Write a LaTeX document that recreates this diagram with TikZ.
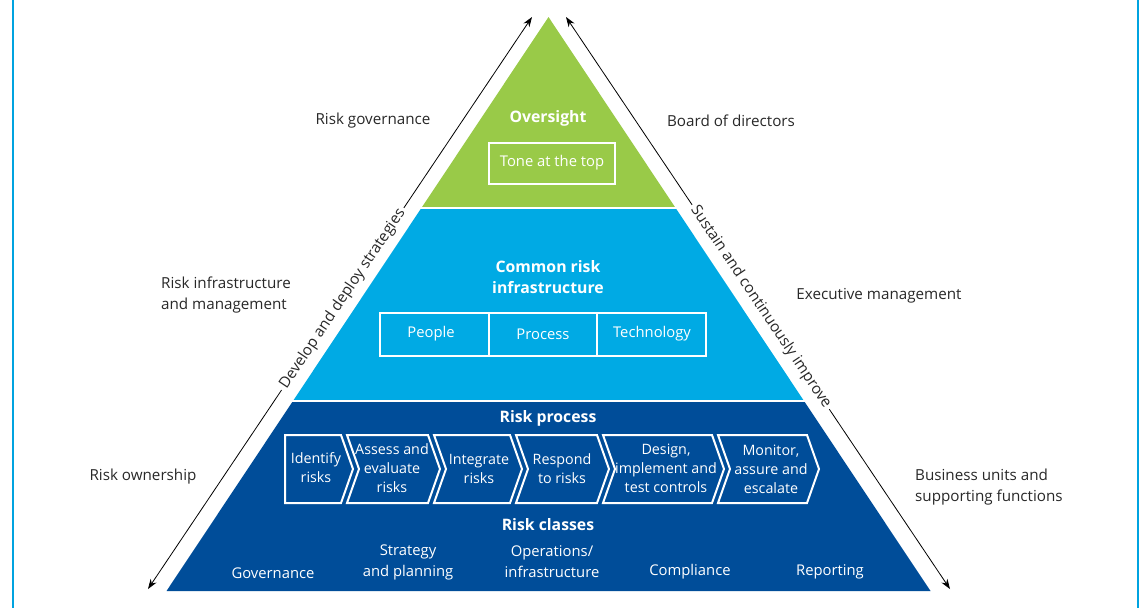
\documentclass[tikz,border=0pt]{standalone}
\usepackage{fontspec}
\setmainfont{Open Sans}
\usetikzlibrary{arrows.meta,calc}
\definecolor{frameblue}{RGB}{0,163,224}
\definecolor{pgreen}{RGB}{153,202,72}
\definecolor{pcyan}{RGB}{0,170,228}
\definecolor{pdark}{RGB}{0,77,153}
\definecolor{txt}{RGB}{40,40,40}
\newcommand\mychev[3]{%
  \draw[wbox] (#1,435) -- (#2,435) -- (#2+12,469) -- (#2,503) -- (#1,503) -- (#1+#3,469) -- cycle;}
\begin{document}
\begin{tikzpicture}[x=1pt,y=-1pt,
  lab/.style={font=\fontsize{15.2}{21}\selectfont, text=txt, inner sep=0pt},
  wlab/.style={font=\fontsize{14.3}{19}\selectfont, text=white, align=center, inner sep=0pt},
  wbold/.style={font=\fontsize{15.8}{21}\selectfont\bfseries, text=white, align=center, inner sep=0pt},
  wbox/.style={draw=white, line width=2pt, line join=miter},
  arr/.style={{Stealth[length=10pt,width=7pt]}-{Stealth[length=10pt,width=7pt]}, line width=0.8pt, draw=black},
  slab/.style={fill=white, font=\fontsize{15.2}{17}\selectfont, text=txt, inner sep=3pt}
]
\useasboundingbox (0,0) rectangle (1144,608);
% frame
\draw[frameblue, line width=2.5pt] (13,0) -- (13,608);
\draw[frameblue, line width=2.5pt] (1138,0) -- (1138,608);
% pyramid
\coordinate (apex) at (548.5,17);
\coordinate (bl) at (166.5,591);
\coordinate (br) at (930.5,591);
\foreach \ya/\yb/\c in {17/206/pgreen, 209/399/pcyan, 402/591/pdark}{
  \begin{scope}
    \clip (0,\ya) rectangle (1144,\yb);
    \fill[\c] (apex) -- (bl) -- (br) -- cycle;
  \end{scope}
}
% arrows
\coordinate (la) at (148,589);
\coordinate (lb) at (532,17);
\coordinate (ra) at (950,589);
\coordinate (rb) at (566,17);
\draw[arr] (la) -- node[pos=0.507, slab, rotate=56.13] (devl) {Develop and deploy strategies} (lb);
\draw[arr] (rb) -- node[pos=0.507, slab, rotate=-56.13] (sust) {Sustain and continuously improve} (ra);
% outside labels
\node[lab] (rgov) at (373,121) {Risk governance};
\node[lab] (bod) at (731,121) {Board of directors};
\node[lab, anchor=west, align=left] (rinf) at (161,295) {Risk infrastructure\\and management};
\node[lab] (exec) at (879,296) {Executive management};
\node[lab] (rown) at (143,477) {Risk ownership};
\node[lab, anchor=west, align=left] (bus) at (915,487) {Business units and\\supporting functions};
% top band
\node[wbold] (over) at (548,118) {Oversight};
\draw[wbox] (489,143) rectangle (615,184);
\node[wlab, font=\fontsize{14.8}{19}\selectfont] (tone) at (552,163) {Tone at the top};
% middle band
\node[wbold] (cri) at (548,277) {Common risk\\infrastructure};
\draw[wbox] (380,313) rectangle (706,356);
\draw[wbox] (489,313) -- (489,356);
\draw[wbox] (597,313) -- (597,356);
\node[wlab, font=\fontsize{14.8}{19}\selectfont] (ppl) at (431,334) {People};
\node[wlab, font=\fontsize{14.8}{19}\selectfont] (prc) at (543,334) {Process};
\node[wlab, font=\fontsize{14.8}{19}\selectfont] (tec) at (652,334) {Technology};
% bottom band
\node[wbold] (rproc) at (548,418) {Risk process};
\mychev{285}{341}{0}
\mychev{347}{428}{12}
\mychev{434}{510}{12}
\mychev{516}{597}{12}
\mychev{603}{712}{12}
\mychev{718}{807}{12}
\node[wlab] (c1) at (316,468) {Identify\\risks};
\node[wlab] (c2) at (392,468) {Assess and\\evaluate\\risks};
\node[wlab] (c3) at (479,469) {Integrate\\risks};
\node[wlab] (c4) at (562,469) {Respond\\to risks};
\node[wlab] (c5) at (666,468) {Design,\\implement and\\test controls};
\node[wlab] (c6) at (771,469) {Monitor,\\assure and\\escalate};
\node[wbold] (rcls) at (548,525) {Risk classes};
\node[wlab, font=\fontsize{14.8}{21}\selectfont] (g1) at (273,573) {Governance};
\node[wlab, font=\fontsize{14.8}{21}\selectfont] (g2) at (408,562) {Strategy\\and planning};
\node[wlab, font=\fontsize{14.8}{21}\selectfont] (g3) at (552,562) {Operations/\\infrastructure};
\node[wlab, font=\fontsize{14.8}{21}\selectfont] (g4) at (690,572) {Compliance};
\node[wlab, font=\fontsize{14.8}{21}\selectfont] (g5) at (830,572) {Reporting};
\end{tikzpicture}
\end{document}
